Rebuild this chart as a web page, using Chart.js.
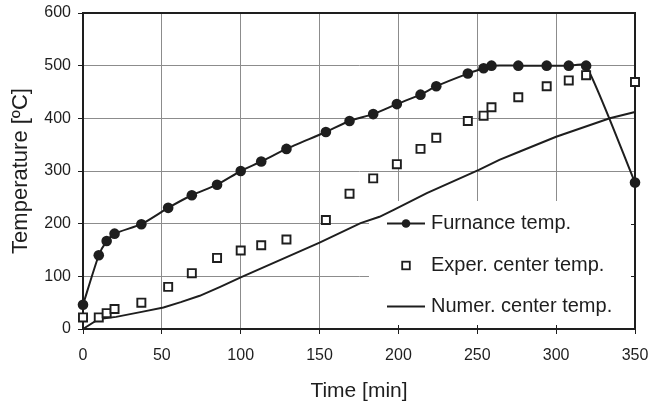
<!DOCTYPE html>
<html>
<head>
<meta charset="utf-8">
<script src="https://cdn.jsdelivr.net/npm/chart.js@4.4.1/dist/chart.umd.min.js"></script>
<style>
    html, body { margin: 0; padding: 0; background: #fff; }
</style>
</head>
<body>
<canvas id="myChart" width="651" height="407"></canvas>
<script>
// measured times (min), shared by furnace and experimental series
const measTime = [0, 10, 15, 20, 37, 54, 69, 85, 100, 113, 129, 154, 169, 184, 199, 214, 224, 244, 254, 259, 276, 294, 308, 319, 350];
const furnaceTemp = [46, 140, 167, 181, 199, 230, 254, 274, 300, 318, 342, 374, 395, 408, 427, 445, 461, 485, 495, 500, 500, 500, 500, 500, 278];
const experTemp = [22, 22, 30, 38, 50, 80, 106, 135, 149, 159, 170, 207, 257, 286, 313, 342, 363, 395, 405, 421, 440, 461, 472, 482, 469];

// numerical center temperature curve
const numTime = [0, 10, 21, 38, 51, 62, 74, 87, 100, 150, 176, 188, 197, 218, 251, 264, 277, 300, 334, 350];
const numTemp = [0, 19, 23, 33, 41, 51, 63, 80, 98, 164, 201, 213, 226, 258, 302, 321, 337, 365, 400, 412];

const seriesLabels = ['Furnance temp.', 'Exper. center temp.', 'Numer. center temp.'];
const xTicks = [0, 50, 100, 150, 200, 250, 300, 350];
const yTicks = [0, 100, 200, 300, 400, 500, 600];

const ink = '#1e1e1e';
const fontName = '"Liberation Sans", Arial, sans-serif';

function toPoints(xs, ys) {
    return xs.map((x, i) => ({ x: x, y: ys[i] }));
}

// white legend box inside the plot, frame and the inner tick marks it leaves visible
const frameAndBox = {
    id: 'frameAndBox',
    beforeDatasetsDraw(chart) {
        const { ctx, chartArea: a, scales } = chart;
        const boxLeft = 369, boxTop = 201;
        ctx.save();
        ctx.fillStyle = '#fff';
        ctx.fillRect(boxLeft, boxTop, a.right - boxLeft - 1, a.bottom - boxTop - 1);

        ctx.strokeStyle = ink;
        ctx.lineWidth = 1;
        ctx.beginPath();
        [200, 250, 300].forEach(v => {
            const px = Math.round(scales.x.getPixelForValue(v)) + 0.5;
            ctx.moveTo(px, a.bottom - 4);
            ctx.lineTo(px, a.bottom);
        });
        [100, 200].forEach(v => {
            const py = Math.round(scales.y.getPixelForValue(v)) + 0.5;
            ctx.moveTo(a.right - 4, py);
            ctx.lineTo(a.right, py);
        });
        ctx.stroke();

        ctx.lineWidth = 2;
        ctx.strokeRect(a.left, a.top, a.right - a.left, a.bottom - a.top);
        ctx.restore();
    },
    afterDatasetsDraw(chart) {
        const { ctx } = chart;
        const rows = [223.5, 265.5, 306.5];
        const x1 = 387, x2 = 425, mx = 406, tx = 431;
        ctx.save();
        ctx.strokeStyle = ink;
        ctx.fillStyle = ink;

        // furnace: line with dot
        ctx.lineWidth = 2;
        ctx.beginPath();
        ctx.moveTo(x1, rows[0]);
        ctx.lineTo(x2, rows[0]);
        ctx.stroke();
        ctx.beginPath();
        ctx.arc(mx, rows[0], 4.3, 0, Math.PI * 2);
        ctx.fill();

        // experiment: open square
        ctx.lineWidth = 1.8;
        ctx.fillStyle = '#fff';
        ctx.fillRect(mx - 3.8, rows[1] - 3.8, 7.6, 7.6);
        ctx.strokeRect(mx - 3.8, rows[1] - 3.8, 7.6, 7.6);

        // numerical: plain line
        ctx.lineWidth = 2;
        ctx.beginPath();
        ctx.moveTo(x1, rows[2]);
        ctx.lineTo(x2, rows[2]);
        ctx.stroke();

        ctx.fillStyle = ink;
        ctx.font = '20px ' + fontName;
        ctx.textBaseline = 'middle';
        ctx.textAlign = 'left';
        chart.data.datasets.forEach((ds, i) => {
            ctx.fillText(ds.label, tx, rows[i]);
        });
        ctx.restore();
    }
};

function createChart() {
    const ctx = document.getElementById('myChart');
    return new Chart(ctx, {
        type: 'line',
        data: {
            datasets: [{
                label: seriesLabels[0],
                data: toPoints(measTime, furnaceTemp),
                borderColor: ink,
                backgroundColor: ink,
                borderWidth: 2,
                pointRadius: 5.3,
                pointBorderWidth: 0,
                tension: 0.2,
                clip: false,
                order: 2
            }, {
                label: seriesLabels[1],
                data: toPoints(measTime, experTemp),
                showLine: false,
                pointStyle: 'rect',
                pointRadius: 5.7,
                pointBorderWidth: 1.9,
                pointBorderColor: ink,
                pointBackgroundColor: '#fff',
                clip: false,
                order: 1
            }, {
                label: seriesLabels[2],
                data: toPoints(numTime, numTemp),
                borderColor: ink,
                borderWidth: 2,
                pointRadius: 0,
                tension: 0,
                clip: false,
                order: 3
            }]
        },
        options: {
            responsive: false,
            animation: false,
            devicePixelRatio: 1,
            layout: { padding: { top: 13, right: 16, bottom: 0, left: 0 } },
            plugins: {
                legend: { display: false },
                tooltip: { enabled: false }
            },
            scales: {
                x: {
                    type: 'linear',
                    min: 0,
                    max: 350,
                    afterBuildTicks: s => { s.ticks = xTicks.map(v => ({ value: v })); },
                    afterFit: s => {
                        s.height = 78;
                        s.paddingLeft = 0;
                        s.paddingRight = 0;
                    },
                    grid: { color: '#8c8c8c', lineWidth: 1, tickColor: ink, tickLength: 5 },
                    border: { color: ink, width: 2 },
                    ticks: { color: ink, font: { family: fontName, size: 16 }, padding: 12, maxRotation: 0 },
                    title: { display: true, text: 'Time [min]', color: ink, font: { family: fontName, size: 21 }, padding: { top: 0, bottom: 3 } }
                },
                y: {
                    type: 'linear',
                    min: 0,
                    max: 600,
                    afterBuildTicks: s => { s.ticks = yTicks.map(v => ({ value: v })); },
                    afterFit: s => {
                        s.width = 83;
                        s.paddingTop = 0;
                        s.paddingBottom = 0;
                    },
                    grid: { color: '#8c8c8c', lineWidth: 1, tickColor: ink, tickLength: 5 },
                    border: { color: ink, width: 2 },
                    ticks: { color: ink, font: { family: fontName, size: 16 }, padding: 7 },
                    title: { display: true, text: 'Temperature [ºC]', color: ink, font: { family: fontName, size: 22 }, padding: { top: 8, bottom: 0 } }
                }
            }
        },
        plugins: [frameAndBox]
    });
}

createChart();
</script>
</body>
</html>
